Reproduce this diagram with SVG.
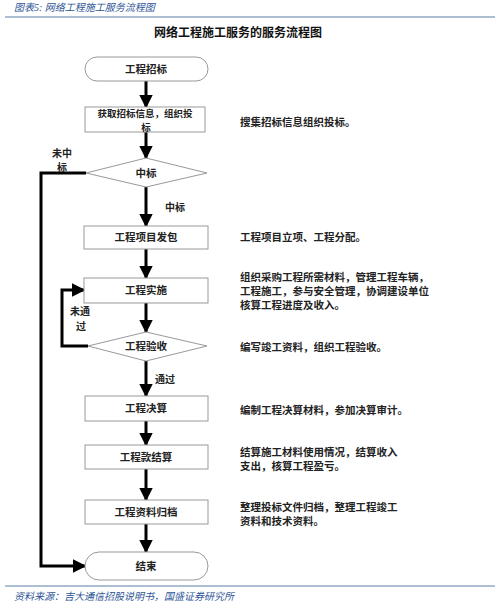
<svg xmlns="http://www.w3.org/2000/svg" width="500" height="606" viewBox="0 0 500 606">
<defs>
<style>
.hd{font-family:"Liberation Serif","Noto Sans CJK SC",serif;font-style:italic;font-size:10px;fill:#2f5597}
.ttl{font-family:"Noto Sans CJK SC",sans-serif;font-size:12px;font-weight:bold;fill:#111}
.t{font-family:"Noto Sans CJK SC",sans-serif;font-size:10.5px;font-weight:bold;fill:#222;text-anchor:middle}
.t2{font-family:"Noto Sans CJK SC",sans-serif;font-size:9.5px;font-weight:bold;fill:#222;text-anchor:middle}
.d{font-family:"Noto Sans CJK SC",sans-serif;font-size:10.5px;font-weight:bold;fill:#222}
.lb{font-family:"Noto Sans CJK SC",sans-serif;font-size:10px;font-weight:bold;fill:#222}
.box{fill:#fff;stroke:#999;stroke-width:1}
.ln{fill:none;stroke:#000;stroke-width:3}
</style>
<marker id="ah" viewBox="0 0 10 10" refX="9" refY="5" markerWidth="4.5" markerHeight="4.5" orient="auto" markerUnits="strokeWidth">
<path d="M0,0 L10,5 L0,10 Z" fill="#000"/>
</marker>
</defs>
<rect width="500" height="606" fill="#fff"/>
<text class="hd" x="14" y="11">图表5: 网络工程施工服务流程图</text>
<line x1="5" y1="17" x2="495" y2="17" stroke="#5a7fa6" stroke-width="1"/>
<text class="ttl" x="238" y="37" text-anchor="middle">网络工程施工服务的服务流程图</text>

<g id="connectors">
<line class="ln" x1="146" y1="81" x2="146" y2="107" marker-end="url(#ah)"/>
<line class="ln" x1="146" y1="132" x2="146" y2="158" marker-end="url(#ah)"/>
<line class="ln" x1="146" y1="187" x2="146" y2="226" marker-end="url(#ah)"/>
<line class="ln" x1="146" y1="249" x2="146" y2="278" marker-end="url(#ah)"/>
<line class="ln" x1="146" y1="303" x2="146" y2="332" marker-end="url(#ah)"/>
<line class="ln" x1="146" y1="361" x2="146" y2="396" marker-end="url(#ah)"/>
<line class="ln" x1="146" y1="421" x2="146" y2="445" marker-end="url(#ah)"/>
<line class="ln" x1="146" y1="469" x2="146" y2="500" marker-end="url(#ah)"/>
<line class="ln" x1="146" y1="524" x2="146" y2="552" marker-end="url(#ah)"/>
<polyline class="ln" points="86,173 41,173 41,566 85,566" marker-end="url(#ah)"/>
<polyline class="ln" points="88,346 62,346 62,290 84,290" marker-end="url(#ah)"/>
<text class="lb" x="52" y="157">未中</text>
<text class="lb" x="57" y="171">标</text>
<text class="lb" x="165" y="211">中标</text>
<text class="lb" x="70" y="315">未通</text>
<text class="lb" x="76" y="330">过</text>
<text class="lb" x="155" y="383">通过</text>
</g>

<g id="n-start">
<rect class="box" x="85" y="57" width="123" height="24" rx="12"/>
<text class="t" x="146" y="73">工程招标</text>
</g>
<g id="n-info">
<rect class="box" x="85" y="107" width="120" height="25"/>
<text class="t2" x="145" y="117">获取招标信息，组织投</text>
<text class="t2" x="146" y="131">标</text>
</g>
<g id="n-win">
<polygon class="box" points="146,158 207,173 146,187 86,173"/>
<text class="t" x="146" y="177">中标</text>
</g>
<g id="n-contract">
<rect class="box" x="84" y="226" width="124" height="23"/>
<text class="t" x="146" y="241">工程项目发包</text>
</g>
<g id="n-build">
<rect class="box" x="84" y="278" width="124" height="25"/>
<text class="t" x="146" y="294">工程实施</text>
</g>
<g id="n-accept">
<polygon class="box" points="146,332 207,346 146,361 88,346"/>
<text class="t" x="146" y="350">工程验收</text>
</g>
<g id="n-final">
<rect class="box" x="85" y="396" width="123" height="25"/>
<text class="t" x="146" y="412">工程决算</text>
</g>
<g id="n-settle">
<rect class="box" x="85" y="445" width="123" height="24"/>
<text class="t" x="146" y="461">工程款结算</text>
</g>
<g id="n-archive">
<rect class="box" x="85" y="500" width="123" height="24"/>
<text class="t" x="146" y="516">工程资料归档</text>
</g>
<g id="n-end">
<rect class="box" x="85" y="552" width="123" height="28" rx="14"/>
<text class="t" x="146" y="570">结束</text>
</g>

<g id="descriptions">
<text class="d" x="240" y="126">搜集招标信息组织投标。</text>
<text class="d" x="240" y="241">工程项目立项、工程分配。</text>
<text class="d" x="240" y="281">组织采购工程所需材料，管理工程车辆，</text>
<text class="d" x="240" y="295">工程施工，参与安全管理，协调建设单位</text>
<text class="d" x="240" y="309">核算工程进度及收入。</text>
<text class="d" x="240" y="351">编写竣工资料，组织工程验收。</text>
<text class="d" x="240" y="414">编制工程决算材料，参加决算审计。</text>
<text class="d" x="240" y="456">结算施工材料使用情况，结算收入</text>
<text class="d" x="240" y="470">支出，核算工程盈亏。</text>
<text class="d" x="240" y="511">整理投标文件归档，整理工程竣工</text>
<text class="d" x="240" y="525">资料和技术资料。</text>
</g>

<line x1="5" y1="586" x2="495" y2="586" stroke="#5a7fa6" stroke-width="1"/>
<text class="hd" x="14" y="600">资料来源：吉大通信招股说明书，国盛证券研究所</text>
</svg>
